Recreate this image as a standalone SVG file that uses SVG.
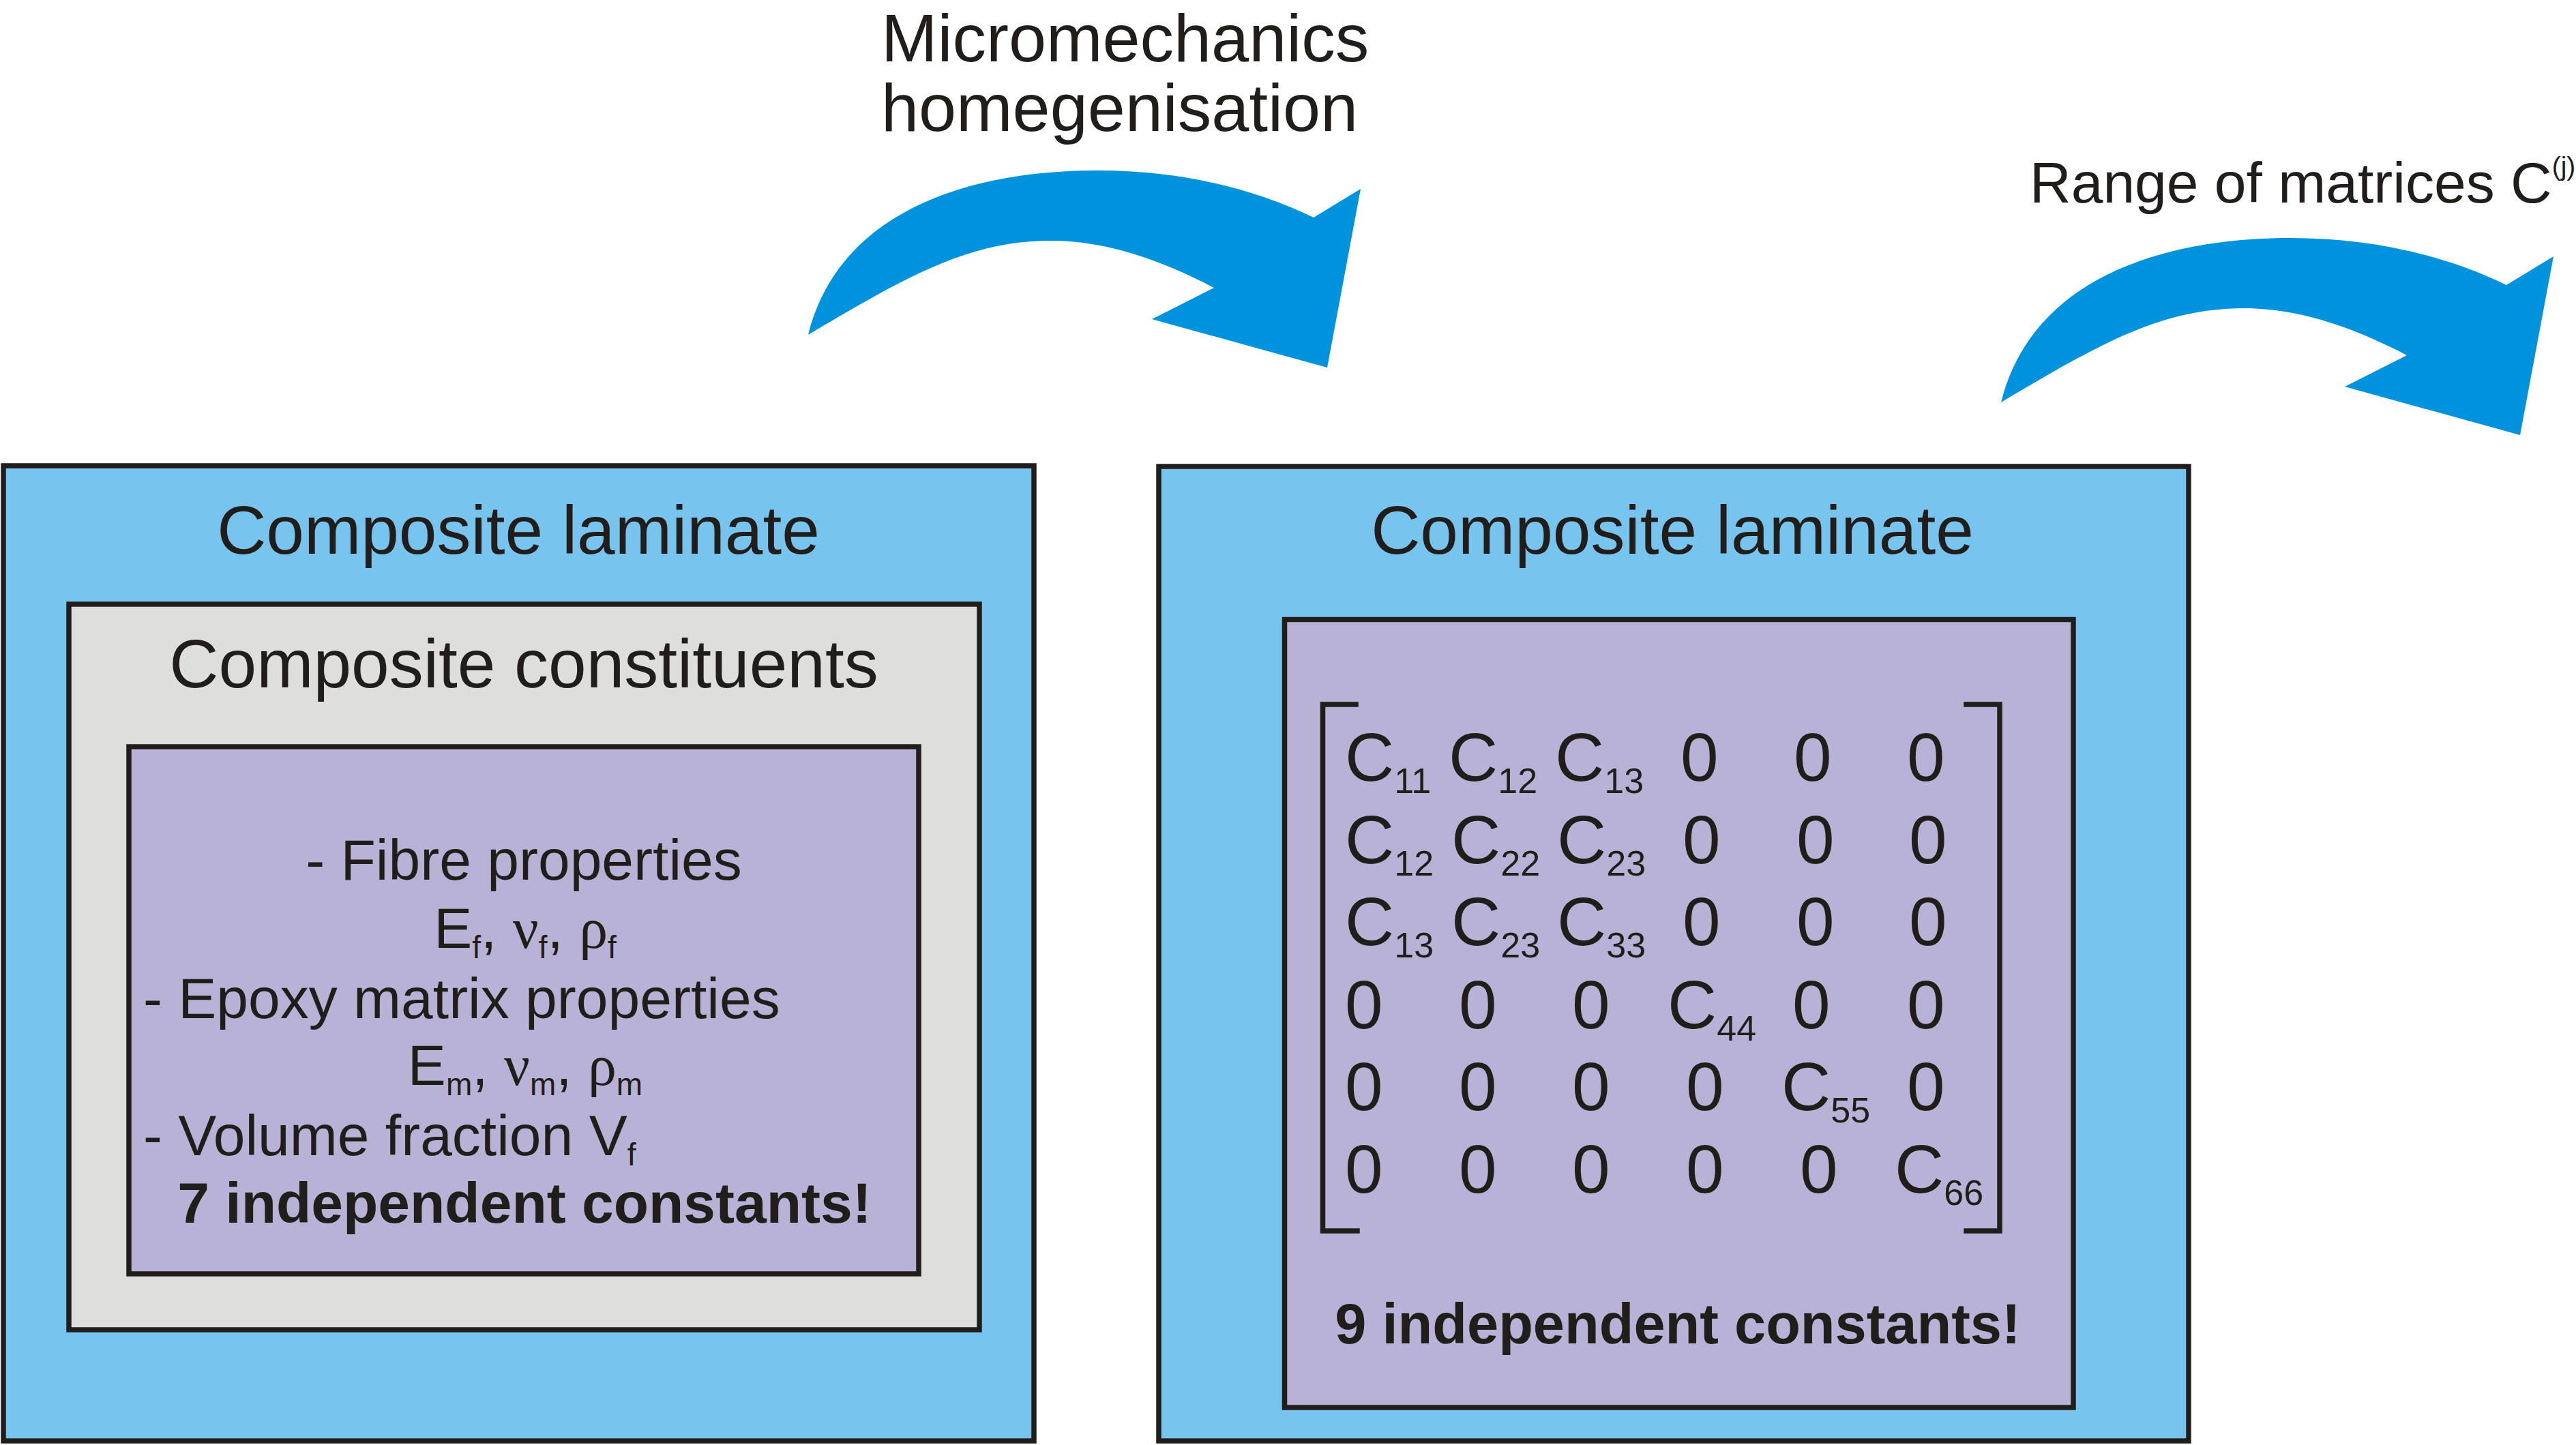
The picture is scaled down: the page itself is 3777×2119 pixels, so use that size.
<svg xmlns="http://www.w3.org/2000/svg" width="3777" height="2119" viewBox="0 0 3777 2119">
<style>
.t{font-family:"Liberation Sans",Arial,Helvetica,sans-serif;fill:#211d1b}
.gr{font-family:"Liberation Serif","Times New Roman",serif}
.b{font-weight:bold}
.box{stroke:#211d1b;stroke-width:7.5}
.blue{fill:#77c4ef}
.grey{fill:#dededd}
.purp{fill:#b8b3d6}
.br{fill:none;stroke:#211d1b;stroke-width:7.5;stroke-linejoin:miter;stroke-linecap:square}
.ar{fill:#0093dd}
</style>
<defs>
<path id="bigArrow" d="M1185,491 C1230,310 1420,250 1609,250 C1720,250 1830,272 1926,319 L1995,277 L1946,539 L1689,468 L1780,422 C1700,380 1620,353 1542,353 C1420,353 1330,405 1185,491 Z"/>
</defs>
<rect width="3777" height="2119" fill="#ffffff"/>

<g id="connectors">
<use href="#bigArrow" class="ar"/>
<use href="#bigArrow" class="ar" transform="translate(1749,99)"/>
<text class="t" font-size="99" x="1292" y="90">Micromechanics</text>
<text class="t" font-size="99" x="1292" y="192">homegenisation</text>
<text class="t" font-size="84" x="2976" y="297">Range of matrices C<tspan font-size="39" dy="-40">(j)</tspan></text>
</g>

<g id="laminate-left">
<rect class="box blue" x="5" y="683" width="1511" height="1430"/>
<text class="t" font-size="100" x="760" y="812" text-anchor="middle">Composite laminate</text>
<g id="constituents">
<rect class="box grey" x="101" y="886" width="1335" height="1064"/>
<text class="t" font-size="100" x="768" y="1008" text-anchor="middle">Composite constituents</text>
<g id="properties">
<rect class="box purp" x="189" y="1095" width="1158" height="773"/>
<text class="t" font-size="84" x="768" y="1290" text-anchor="middle">- Fibre properties</text>
<text class="t" font-size="84" x="770" y="1390" text-anchor="middle">E<tspan font-size="46" dy="15">f</tspan><tspan dy="-15">, </tspan><tspan class="gr">ν</tspan><tspan font-size="46" dy="15">f</tspan><tspan dy="-15">, </tspan><tspan class="gr">ρ</tspan><tspan font-size="46" dy="15">f</tspan></text>
<text class="t" font-size="84" x="210" y="1493">- Epoxy matrix properties</text>
<text class="t" font-size="84" x="770" y="1591" text-anchor="middle">E<tspan font-size="46" dy="15">m</tspan><tspan dy="-15">, </tspan><tspan class="gr">ν</tspan><tspan font-size="46" dy="15">m</tspan><tspan dy="-15">, </tspan><tspan class="gr">ρ</tspan><tspan font-size="46" dy="15">m</tspan></text>
<text class="t" font-size="84" x="210" y="1694">- Volume fraction V<tspan font-size="46" dy="15">f</tspan></text>
<text class="t b" font-size="84" x="769" y="1793" text-anchor="middle">7 independent constants!</text>
</g>
</g>
</g>

<g id="laminate-right">
<rect class="box blue" x="1699" y="684" width="1510" height="1429"/>
<text class="t" font-size="100" x="2452" y="812" text-anchor="middle">Composite laminate</text>
<g id="stiffness-matrix">
<rect class="box purp" x="1883.5" y="908.5" width="1156.5" height="1155.5"/>
<polyline class="br" points="1988,1033 1939.5,1033 1939.5,1805 1990,1805"/>
<polyline class="br" points="2883,1033 2932,1033 2932,1805 2883,1805"/>
<g class="t" font-size="100">
<text x="1972" y="1145">C<tspan font-size="52" dy="18">11</tspan></text>
<text x="2124" y="1145">C<tspan font-size="52" dy="18">12</tspan></text>
<text x="2280" y="1145">C<tspan font-size="52" dy="18">13</tspan></text>
<text x="2464" y="1145">0</text>
<text x="2630" y="1145">0</text>
<text x="2796" y="1145">0</text>

<text x="1972" y="1266">C<tspan font-size="52" dy="18">12</tspan></text>
<text x="2128" y="1266">C<tspan font-size="52" dy="18">22</tspan></text>
<text x="2283" y="1266">C<tspan font-size="52" dy="18">23</tspan></text>
<text x="2467" y="1266">0</text>
<text x="2634" y="1266">0</text>
<text x="2799" y="1266">0</text>

<text x="1972" y="1386">C<tspan font-size="52" dy="18">13</tspan></text>
<text x="2128" y="1386">C<tspan font-size="52" dy="18">23</tspan></text>
<text x="2283" y="1386">C<tspan font-size="52" dy="18">33</tspan></text>
<text x="2467" y="1386">0</text>
<text x="2634" y="1386">0</text>
<text x="2799" y="1386">0</text>

<text x="1972" y="1508">0</text>
<text x="2139" y="1508">0</text>
<text x="2305" y="1508">0</text>
<text x="2445" y="1508">C<tspan font-size="52" dy="18">44</tspan></text>
<text x="2628" y="1508">0</text>
<text x="2796" y="1508">0</text>

<text x="1972" y="1628">0</text>
<text x="2139" y="1628">0</text>
<text x="2305" y="1628">0</text>
<text x="2472" y="1628">0</text>
<text x="2612" y="1628">C<tspan font-size="52" dy="18">55</tspan></text>
<text x="2796" y="1628">0</text>

<text x="1972" y="1749">0</text>
<text x="2139" y="1749">0</text>
<text x="2305" y="1749">0</text>
<text x="2472" y="1749">0</text>
<text x="2639" y="1749">0</text>
<text x="2778" y="1749">C<tspan font-size="52" dy="18">66</tspan></text>
</g>
<text class="t b" font-size="83" x="2460" y="1970" text-anchor="middle">9 independent constants!</text>
</g>
</g>
</svg>
